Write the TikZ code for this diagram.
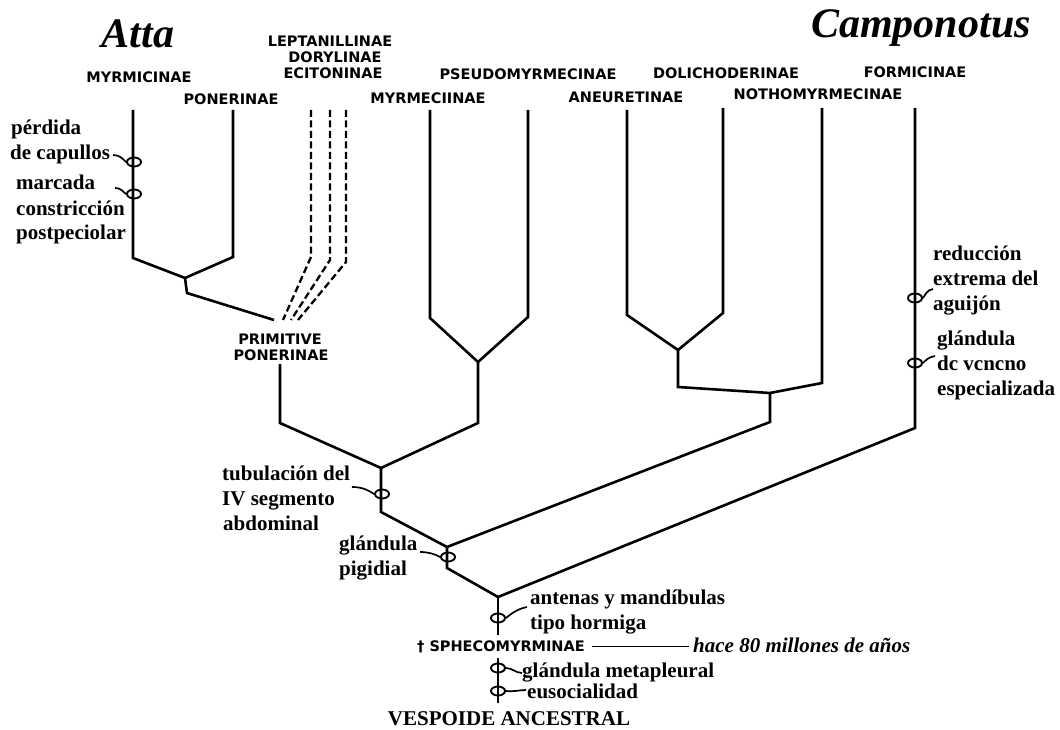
\documentclass[tikz,border=0pt]{standalone}
\usepackage{fontspec}
\setmainfont{Liberation Serif}
\newfontfamily\labfont{DejaVu Sans}
\usetikzlibrary{shapes.geometric}
\begin{document}
\begin{tikzpicture}[x=1pt,y=-1pt,
  branch/.style={line width=2.6pt},
  dbranch/.style={line width=2.3pt, dash pattern=on 7pt off 3.5pt},
  taxon/.style={font=\labfont\bfseries\fontsize{14.5}{17}\selectfont, inner sep=0pt, anchor=base},
  note/.style={font=\bfseries\fontsize{21}{24}\selectfont, inner sep=0pt, anchor=base west},
  genus/.style={font=\bfseries\itshape\fontsize{42}{46}\selectfont, inner sep=0pt, anchor=base},
  trait/.style={draw, ellipse, minimum width=14pt, minimum height=9pt, inner sep=0pt, line width=1.9pt},
  leader/.style={line width=1.7pt}]
\useasboundingbox (0,0) rectangle (1060,730);

% genera
\node[genus] (atta) at (138,48) {Atta};
\node[genus] (campo) at (921,38) {Camponotus};

% taxa labels
\node[taxon] (myrmi) at (139,83) {MYRMICINAE};
\node[taxon] (poner) at (231,105) {PONERINAE};
\node[taxon] (lepta) at (330,47) {LEPTANILLINAE};
\node[taxon] (doryl) at (335,63) {DORYLINAE};
\node[taxon] (ecito) at (333,79) {ECITONINAE};
\node[taxon] (pseudo) at (528,80) {PSEUDOMYRMECINAE};
\node[taxon] (myrme) at (428,104) {MYRMECIINAE};
\node[taxon] (dolich) at (726,79) {DOLICHODERINAE};
\node[taxon] (aneur) at (626,103) {ANEURETINAE};
\node[taxon] (formi) at (915,78) {FORMICINAE};
\node[taxon] (notho) at (818,100) {NOTHOMYRMECINAE};
\node[taxon] (prim1) at (280,344) {PRIMITIVE};
\node[taxon] (prim2) at (281,360) {PONERINAE};
\node[taxon, anchor=base west] (sph) at (417,651) {† SPHECOMYRMINAE};

% tips
\coordinate (tMyrmi) at (133,110);
\coordinate (tPoner) at (233,110);
\coordinate (tL1) at (311,110);
\coordinate (tL2) at (330,110);
\coordinate (tL3) at (346,110);
\coordinate (tMyrme) at (430,110);
\coordinate (tPseudo) at (528,110);
\coordinate (tAneur) at (627,110);
\coordinate (tDolich) at (723,108);
\coordinate (tNotho) at (822,108);
\coordinate (tFormi) at (915,108);

% junctions
\coordinate (j1) at (185,278);
\coordinate (pp) at (274,320);
\coordinate (ppb) at (280,364);
\coordinate (j2) at (381,468);
\coordinate (j3) at (478,362);
\coordinate (j4) at (447,547);
\coordinate (j5) at (678,350);
\coordinate (j6) at (770,393);
\coordinate (j7) at (498,597);

% branches
\draw[branch] (tMyrmi) -- (133,258) -- (j1);
\draw[branch] (tPoner) -- (233,257) -- (j1);
\draw[branch] (j1) -- (187,293) -- (pp);
\draw[dbranch] (tL1) -- (311,257) -- (283,320);
\draw[dbranch] (tL2) -- (330,260) -- (291,320);
\draw[dbranch] (tL3) -- (346,262) -- (298,320);
\draw[branch] (ppb) -- (280,423) -- (j2);
\draw[branch] (tMyrme) -- (430,318) -- (j3);
\draw[branch] (tPseudo) -- (528,317) -- (j3);
\draw[branch] (j3) -- (478,423) -- (j2);
\draw[branch] (j2) -- (381,512) -- (j4);
\draw[branch] (tAneur) -- (627,315) -- (j5);
\draw[branch] (tDolich) -- (723,313) -- (j5);
\draw[branch] (j5) -- (678,387) -- (j6);
\draw[branch] (tNotho) -- (822,383) -- (j6);
\draw[branch] (j6) -- (770,422) -- (j4);
\draw[branch] (j4) -- (447,568) -- (j7);
\draw[branch] (tFormi) -- (915,428) -- (j7);
\draw[branch] (j7) -- (498,635);
\draw[branch] (498,658) -- (498,703);

% trait markers
\node[trait] (m1) at (134,162) {};
\node[trait] (m2) at (134,194) {};
\node[trait] (m3) at (915,298) {};
\node[trait] (m4) at (915,363) {};
\node[trait] (m5) at (382,494) {};
\node[trait] (m6) at (448,557) {};
\node[trait] (m7) at (498,618) {};
\node[trait] (m8) at (498,668) {};
\node[trait] (m9) at (498,691) {};

% notes
\node[note] (n1a) at (11,135) {pérdida};
\node[note] (n1b) at (10,160) {de capullos};
\node[note] (n2a) at (16,190) {marcada};
\node[note] (n2b) at (16,215) {constricción};
\node[note] (n2c) at (16,240) {postpeciolar};
\node[note] (n3a) at (933,260) {reducción};
\node[note] (n3b) at (933,285) {extrema del};
\node[note] (n3c) at (933,310) {aguijón};
\node[note] (n4a) at (937,345) {glándula};
\node[note] (n4b) at (937,370) {dc vcncno};
\node[note] (n4c) at (937,395) {especializada};
\node[note] (n5a) at (222,480) {tubulación del};
\node[note] (n5b) at (222,505) {IV segmento};
\node[note] (n5c) at (223,530) {abdominal};
\node[note] (n6a) at (339,550) {glándula};
\node[note] (n6b) at (339,575) {pigidial};
\node[note] (n7a) at (530,604) {antenas y mandíbulas};
\node[note] (n7b) at (530,629) {tipo hormiga};
\node[note] (n8) at (522,677) {glándula metapleural};
\node[note] (n9) at (527,698) {eusocialidad};
\node[font=\bfseries\fontsize{21}{24}\selectfont, inner sep=0pt, anchor=base] (vesp) at (509,725) {VESPOIDE ANCESTRAL};
\node[font=\bfseries\itshape\fontsize{21}{24}\selectfont, inner sep=0pt, anchor=base west] (hace) at (693,652) {hace 80 millones de años};

% time line
\draw[line width=1.2pt] ([xshift=7pt]sph.east) -- ([xshift=-4pt]sph.east -| hace.west);

% leaders
\coordinate (l1) at (113,155);
\coordinate (l2) at (115,188);
\coordinate (l3) at (933,289);
\coordinate (l4) at (935,356);
\coordinate (l5) at (352,487);
\coordinate (l6) at (420,552);
\coordinate (l7) at (527,607);
\coordinate (l8) at (522,673);
\coordinate (l9) at (526,690);
\draw[leader] (l1) .. controls +(6,0) and +(-4,-4) .. (m1.west);
\draw[leader] (l2) .. controls +(6,0) and +(-4,-3) .. (m2.west);
\draw[leader] (l3) .. controls +(-6,1) and +(3,-4) .. (m3.east);
\draw[leader] (l4) .. controls +(-6,1) and +(3,-3) .. (m4.east);
\draw[leader] (l5) .. controls +(10,0) and +(-6,-4) .. (m5.west);
\draw[leader] (l6) .. controls +(8,0) and +(-5,-3) .. (m6.west);
\draw[leader] (l7) .. controls +(-10,2) and +(5,-4) .. (m7.east);
\draw[leader] (m8.east) .. controls +(6,0) and +(-6,0) .. (l8);
\draw[leader] (m9.east) .. controls +(6,1) and +(-6,0) .. (l9);
\end{tikzpicture}
\end{document}
